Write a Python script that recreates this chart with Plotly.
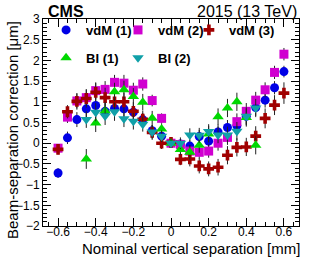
import plotly.graph_objects as go

# Nominal vertical separation [mm]
sep_vdm = [-0.60, -0.55, -0.50, -0.45, -0.40, -0.35, -0.30, -0.25, -0.20, -0.15, -0.10, -0.05,
           0.00, 0.05, 0.10, 0.15, 0.20, 0.25, 0.30, 0.35, 0.40, 0.45, 0.50, 0.55, 0.60]
sep_bi = [-0.45, -0.40, -0.35, -0.30, -0.25, -0.20, -0.15, -0.10, -0.05,
          0.00, 0.05, 0.10, 0.15, 0.20, 0.25, 0.30, 0.35, 0.40, 0.45]

# Beam-separation correction [um]
vdm1 = [-0.72, 0.13, 0.57, 0.83, 0.91, 0.77, 0.84, 0.83, 0.75, 0.57, 0.30, 0.17,
        0.00, -0.02, -0.07, 0.16, 0.05, 0.27, 0.38, 0.42, 0.65, 0.86, 1.04, 1.34, 1.73]
vdm2 = [-0.12, 0.63, 1.02, 1.10, 1.27, 1.30, 1.47, 1.45, 1.28, 1.43, 1.03, 0.60,
        0.00, -0.03, -0.19, -0.22, -0.19, 0.00, 0.14, 0.52, 0.77, 1.04, 1.29, 1.71, 2.15]
vdm3 = [-0.15, 0.76, 1.01, 1.08, 1.23, 1.10, 1.00, 1.00, 0.77, 0.58, 0.26, 0.00,
        0.02, -0.39, -0.38, -0.55, -0.62, -0.58, -0.29, -0.10, -0.09, 0.17, 0.60, 0.92, 1.21]
bi1 = [-0.38, 0.49, 0.78, 1.24, 1.29, 1.13, 0.99, 0.60, 0.34,
       0.00, -0.15, -0.22, -0.05, 0.22, 0.64, 0.85, 1.00, 0.62, -0.05]
bi2 = [0.57, 0.75, 0.66, 0.76, 0.59, 0.53, 0.46, 0.27, 0.17,
       0.00, 0.00, 0.20, 0.19, 0.28, 0.20, 0.20, 0.29, 0.65, 0.85]

# Uncertainties
err_vdm1 = [0.12, 0.15, 0.18, 0.20, 0.20, 0.20, 0.20, 0.20, 0.18, 0.16, 0.14, 0.12,
            0.08, 0.12, 0.14, 0.16, 0.16, 0.18, 0.18, 0.20, 0.20, 0.20, 0.18, 0.16, 0.14]
err_vdm2 = [0.10, 0.14, 0.18, 0.20, 0.20, 0.20, 0.18, 0.20, 0.18, 0.16, 0.14, 0.12,
            0.08, 0.12, 0.14, 0.16, 0.16, 0.18, 0.18, 0.20, 0.20, 0.20, 0.18, 0.16, 0.15]
err_vdm3 = [0.12, 0.16, 0.20, 0.22, 0.22, 0.24, 0.24, 0.22, 0.22, 0.20, 0.18, 0.14,
            0.10, 0.14, 0.18, 0.18, 0.18, 0.20, 0.22, 0.22, 0.22, 0.24, 0.24, 0.24, 0.26]
err_bi1 = [0.24, 0.22, 0.22, 0.22, 0.22, 0.20, 0.20, 0.18, 0.14,
           0.10, 0.14, 0.18, 0.18, 0.20, 0.20, 0.22, 0.22, 0.22, 0.22]
err_bi2 = [0.20, 0.22, 0.22, 0.22, 0.20, 0.20, 0.18, 0.16, 0.14,
           0.10, 0.14, 0.16, 0.18, 0.18, 0.20, 0.20, 0.22, 0.22, 0.22]

FONT = "Liberation Sans, Arial, Helvetica, sans-serif"

series = [
    ("vdM (1)", sep_vdm, vdm1, err_vdm1, "circle", "#0000e6", 9, "legend"),
    ("vdM (2)", sep_vdm, vdm2, err_vdm2, "square", "#d000d0", 9, "legend2"),
    ("vdM (3)", sep_vdm, vdm3, err_vdm3, "cross", "#a00000", 9, "legend3"),
    ("BI (1)", sep_bi, bi1, err_bi1, "triangle-up", "#00d800", 10, "legend4"),
    ("BI (2)", sep_bi, bi2, err_bi2, "triangle-down", "#10a0a8", 10, "legend5"),
]

fig = go.Figure()
for name, xs, ys, es, sym, col, size, leg in series:
    fig.add_trace(go.Scatter(
        x=xs, y=ys, name=name, mode="markers", legend=leg,
        marker=dict(symbol=sym, color=col, size=size, line=dict(width=0)),
        error_y=dict(type="data", array=es, color="#222222", thickness=1, width=0),
    ))

axis_common = dict(
    showline=True, linecolor="black", linewidth=1, mirror="allticks",
    ticks="inside", ticklen=8, tickcolor="black", showgrid=False, zeroline=False,
    tickfont=dict(family=FONT, size=12, color="black"),
)

fig.update_xaxes(range=[-0.68, 0.68], tick0=0, dtick=0.2, ticklabelstandoff=-5,
                 minor=dict(dtick=0.05, ticks="inside", ticklen=4, tickcolor="black"),
                 **axis_common)
fig.update_yaxes(range=[-2, 3], tick0=0, dtick=0.5,
                 minor=dict(dtick=0.1, ticks="inside", ticklen=4, tickcolor="black"),
                 **axis_common)

legend_common = dict(
    orientation="h", xanchor="left", yanchor="middle",
    bgcolor="rgba(0,0,0,0)", borderwidth=0,
    font=dict(family=FONT, size=13, color="black", weight="bold"),
    itemwidth=30,
)

row1, row2 = 0.947, 0.812
col1, col2, col3 = 0.012, 0.293, 0.570

fig.update_layout(
    width=332, height=262,
    margin=dict(l=43, r=33, t=19, b=36),
    paper_bgcolor="white", plot_bgcolor="white",
    showlegend=True,
    legend=dict(x=col1, y=row1, **legend_common),
    legend2=dict(x=col2, y=row1, **legend_common),
    legend3=dict(x=col3, y=row1, **legend_common),
    legend4=dict(x=col1, y=row2, **legend_common),
    legend5=dict(x=col2, y=row2, **legend_common),
    annotations=[
        dict(text="<b>CMS</b>", xref="paper", yref="paper", x=0.012, y=1.035,
             xanchor="left", yanchor="middle", showarrow=False,
             font=dict(family=FONT, size=16, color="black")),
        dict(text="2015 (13 TeV)", xref="paper", yref="paper", x=1.0, y=1.035,
             xanchor="right", yanchor="middle", showarrow=False,
             font=dict(family=FONT, size=16, color="black")),
        dict(text="Nominal vertical separation [mm]", xref="paper", yref="paper",
             x=1.0, y=-0.111, xanchor="right", yanchor="middle", showarrow=False,
             xshift=3, font=dict(family=FONT, size=15, color="black")),
        dict(text="Beam-separation correction [μm]", xref="paper", yref="paper",
             x=-0.121, y=1.0, xanchor="center", yanchor="top", textangle=-90,
             showarrow=False, font=dict(family=FONT, size=15, color="black")),
    ],
)

fig.write_html("out.html", config={"displayModeBar": False},
               post_script="document.body.style.margin='0';document.body.style.overflow='hidden';")
